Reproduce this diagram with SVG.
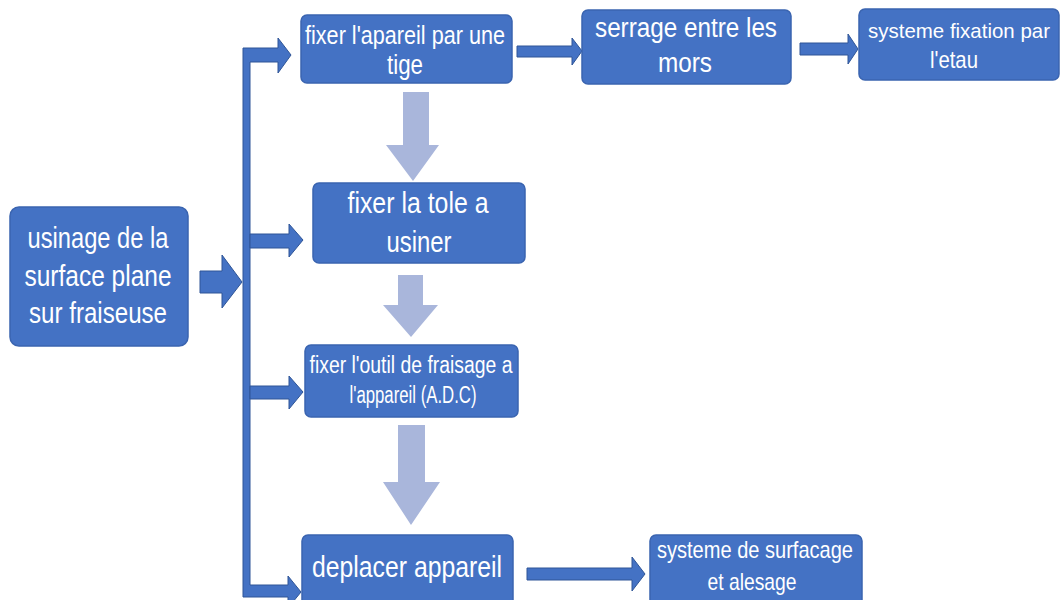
<svg xmlns="http://www.w3.org/2000/svg" width="1063" height="600" viewBox="0 0 1063 600">
<style>
.box{fill:#4472c4;stroke:#3a64b0;stroke-width:1.5}
.t{fill:#ffffff;font-family:"Liberation Sans Narrow","Liberation Sans",Arial,sans-serif;text-anchor:middle}
.blk{fill:#4472c4;stroke:#2f5597;stroke-width:1}
.lt{fill:#a9b6db}
</style>
<rect width="1063" height="600" fill="#ffffff"/>
<g id="connectors">
  <polygon class="blk" points="200,271 222,271 222,255 242,282 222,308 222,293 200,293"/>
  <polygon class="blk" points="243,48 278,48 278,38 291,55 278,73 278,62 250,62 250,585 288,585 288,576 301,592 288,608 288,597 243,597"/>
  <polygon class="blk" points="250,234 289,234 289,224 303,240 289,257 289,248 250,248"/>
  <polygon class="blk" points="250,386 289,386 289,376 303,392 289,409 289,399 250,399"/>
  <polygon class="blk" points="517,46 572,46 572,38 582,51 572,65 572,57 517,57"/>
  <polygon class="blk" points="800,43 848,43 848,34 858,49 848,64 848,55 800,55"/>
  <polygon class="blk" points="527,568 632,568 632,557 645,574 632,591 632,580 527,580"/>
  <polygon class="lt" points="403,92 429,92 429,145 439,145 413,181 386,145 403,145"/>
  <polygon class="lt" points="398,275 423,275 423,305 438,305 411,337 383,305 398,305"/>
  <polygon class="lt" points="398,425 425,425 425,482 440,482 411,525 383,482 398,482"/>
</g>
<g id="n-main">
  <rect class="box" x="10" y="207" width="178" height="139" rx="9"/>
  <text class="t" x="98" y="248" font-size="30" textLength="141" lengthAdjust="spacingAndGlyphs">usinage de la</text>
  <text class="t" x="98" y="286" font-size="30" textLength="147" lengthAdjust="spacingAndGlyphs">surface plane</text>
  <text class="t" x="98" y="323" font-size="30" textLength="138" lengthAdjust="spacingAndGlyphs">sur fraiseuse</text>
</g>
<g id="n-tige">
  <rect class="box" x="301" y="15" width="211" height="68" rx="6"/>
  <text class="t" x="405" y="44" font-size="26" textLength="200" lengthAdjust="spacingAndGlyphs">fixer l'apareil par une</text>
  <text class="t" x="405" y="74" font-size="27" textLength="36" lengthAdjust="spacingAndGlyphs">tige</text>
</g>
<g id="n-serrage">
  <rect class="box" x="582" y="10" width="209" height="74" rx="6"/>
  <text class="t" x="686" y="37" font-size="27" textLength="182" lengthAdjust="spacingAndGlyphs">serrage entre les</text>
  <text class="t" x="685" y="72" font-size="27" textLength="54" lengthAdjust="spacingAndGlyphs">mors</text>
</g>
<g id="n-etau">
  <rect class="box" x="859" y="9" width="200" height="71" rx="6"/>
  <text class="t" x="959" y="38" font-size="21" textLength="182" lengthAdjust="spacingAndGlyphs">systeme fixation par</text>
  <text class="t" x="954" y="68" font-size="24" textLength="48" lengthAdjust="spacingAndGlyphs">l'etau</text>
</g>
<g id="n-tole">
  <rect class="box" x="313" y="183" width="212" height="80" rx="6"/>
  <text class="t" x="418" y="213" font-size="29" textLength="141" lengthAdjust="spacingAndGlyphs">fixer la tole a</text>
  <text class="t" x="419" y="252" font-size="29" textLength="65" lengthAdjust="spacingAndGlyphs">usiner</text>
</g>
<g id="n-outil">
  <rect class="box" x="305" y="345" width="213" height="72" rx="6"/>
  <text class="t" x="411" y="373" font-size="23" textLength="203" lengthAdjust="spacingAndGlyphs">fixer l'outil de fraisage a</text>
  <text class="t" x="413" y="403" font-size="23" textLength="127" lengthAdjust="spacingAndGlyphs">l'appareil (A.D.C)</text>
</g>
<g id="n-deplacer">
  <rect class="box" x="302" y="535" width="211" height="80" rx="6"/>
  <text class="t" x="407" y="577" font-size="29" textLength="190" lengthAdjust="spacingAndGlyphs">deplacer appareil</text>
</g>
<g id="n-surfacage">
  <rect class="box" x="650" y="535" width="212" height="80" rx="6"/>
  <text class="t" x="755" y="558" font-size="24" textLength="196" lengthAdjust="spacingAndGlyphs">systeme de surfacage</text>
  <text class="t" x="752" y="590" font-size="24" textLength="89" lengthAdjust="spacingAndGlyphs">et alesage</text>
</g>
</svg>
